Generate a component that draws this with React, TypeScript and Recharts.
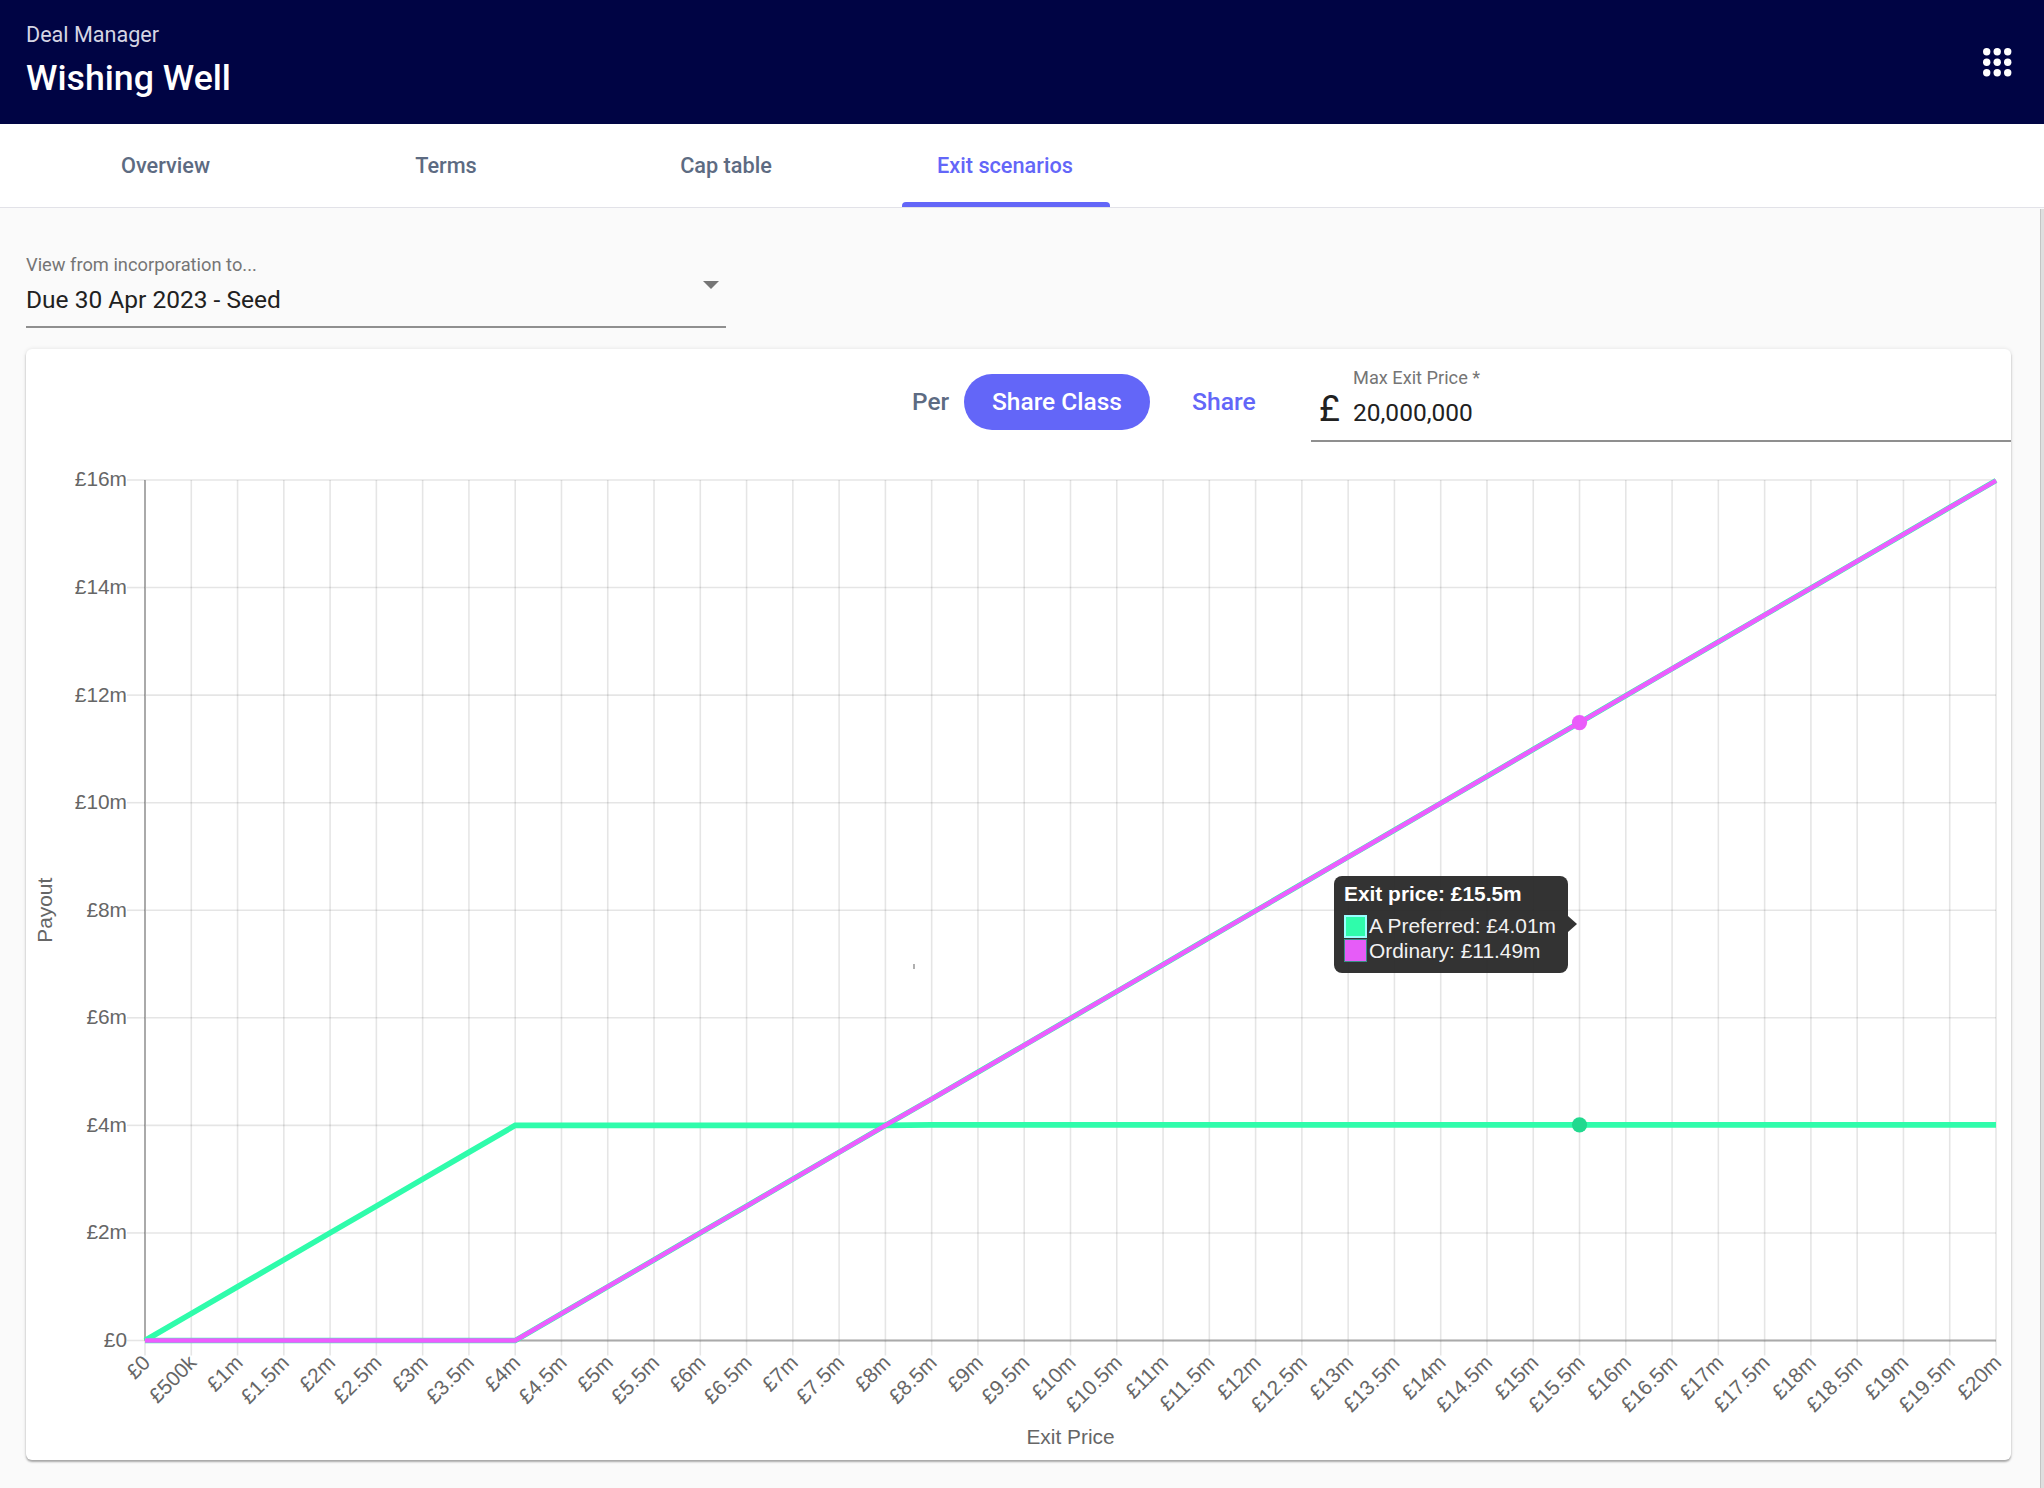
import React from "react";
import { LineChart, Line, XAxis, YAxis, CartesianGrid, Tooltip } from "recharts";

const exitLabels = ["£0","£500k","£1m","£1.5m","£2m","£2.5m","£3m","£3.5m","£4m","£4.5m","£5m","£5.5m","£6m","£6.5m","£7m","£7.5m","£8m","£8.5m","£9m","£9.5m","£10m","£10.5m","£11m","£11.5m","£12m","£12.5m","£13m","£13.5m","£14m","£14.5m","£15m","£15.5m","£16m","£16.5m","£17m","£17.5m","£18m","£18.5m","£19m","£19.5m","£20m"];
const aPreferred = [0,0.5,1,1.5,2,2.5,3,3.5,4,4,4,4,4,4,4,4,4,4.01,4.01,4.01,4.01,4.01,4.01,4.01,4.01,4.01,4.01,4.01,4.01,4.01,4.01,4.01,4.01,4.01,4.01,4.01,4.01,4.01,4.01,4.01,4.01];
const ordinary = [0,0,0,0,0,0,0,0,0,0.5,1,1.5,2,2.5,3,3.5,4,4.49,4.99,5.49,5.99,6.49,6.99,7.49,7.99,8.49,8.99,9.49,9.99,10.49,10.99,11.49,11.99,12.49,12.99,13.49,13.99,14.49,14.99,15.49,15.99];
const yTicks = [0,2,4,6,8,10,12,14,16];
const tabs = ["Overview","Terms","Cap table","Exit scenarios"];

const GREEN = "#2ffcab";
const PURPLE = "#ee5cff";
const INDIGO = "#6366f8";
const GRID = "rgba(0,0,0,0.1)";
const CHART_FONT = 20.86;

const data = exitLabels.map((label, i) => ({ label, a: aPreferred[i], o: ordinary[i], edge: ordinary[i] }));

const ui = "Roboto, sans-serif";
const arial = "'Liberation Sans', Arial, sans-serif";

function TipBox({ payload, label }: any) {
  if (!payload || !payload.length) return null;
  const rows = payload.filter((p: any) => p.dataKey !== "edge");
  return (
    <div style={{ position: "relative", width: 234, height: 97, boxSizing: "border-box", background: "rgba(40,40,40,0.95)", borderRadius: 8, color: "#fff", fontFamily: arial, fontSize: 20.9, padding: "5px 8px 0 10px" }}>
      <div style={{ fontWeight: 700, lineHeight: "26px", marginBottom: 7, whiteSpace: "nowrap" }}>Exit price: {label}</div>
      {rows.map((p: any) => (
        <div key={p.dataKey} style={{ display: "flex", alignItems: "center", height: 24.5, whiteSpace: "nowrap" }}>
          <span style={{ display: "inline-block", flex: "none", width: 23, height: 23, boxSizing: "border-box", background: p.dataKey === "a" ? GREEN : "#e65cf8", border: p.dataKey === "a" ? "2px solid #9ff" : "1px solid #3a8f86", marginRight: 2 }} />
          <span style={{ color: "#f2f2f2" }}>{p.name}: £{Number(p.value).toFixed(2)}m</span>
        </div>
      ))}
      <div style={{ position: "absolute", left: 234, top: 40, width: 0, height: 0, borderTop: "8px solid transparent", borderBottom: "8px solid transparent", borderLeft: "9px solid rgba(40,40,40,0.95)" }} />
    </div>
  );
}

function XTick({ x, y, payload }: any) {
  const px = x - 4;
  const py = y - 4;
  return (
    <text x={px} y={py} dy="0.71em" textAnchor="end" transform={`rotate(-45 ${px} ${py})`} fontFamily={arial} fontSize={CHART_FONT} fill="#666">{payload.value}</text>
  );
}

function YTick({ x, y, payload }: any) {
  return (
    <text x={x} y={y - 1} dy="0.355em" textAnchor="end" fontFamily={arial} fontSize={CHART_FONT} fill="#666">{payload.value === 0 ? "£0" : `£${payload.value}m`}</text>
  );
}

const Abs = ({ x, y, size, color, weight, children, font }: any) => (
  <div style={{ position: "absolute", left: x, top: y, fontSize: size, color, fontWeight: weight || 400, fontFamily: font || ui, lineHeight: 1, whiteSpace: "nowrap" }}>{children}</div>
);

export default function App() {
  const tabCentres = [165.5, 446, 726, 1005];
  return (
    <div style={{ position: "absolute", left: 0, top: 0, width: 2044, height: 1488, background: "#fafafa", overflow: "hidden" }}>
      <div style={{ position: "absolute", left: 0, top: 0, width: 2044, height: 124, background: "#000444" }} />
      <Abs x={26} y={24} size={21.6} color="#d5d5e3">Deal Manager</Abs>
      <Abs x={26} y={61} size={35.7} color="#fff" weight={500}>Wishing Well</Abs>
      <svg style={{ position: "absolute", left: 1983, top: 48 }} width={30} height={30}>
        {[0,1,2].flatMap(r => [0,1,2].map(c => <circle key={r + "-" + c} cx={3.7 + c * 10.5} cy={3.7 + r * 10.5} r={3.7} fill="#fff" />))}
      </svg>

      <div style={{ position: "absolute", left: 0, top: 124, width: 2044, height: 84, background: "#fff", borderBottom: "1px solid #e2e2e8", boxSizing: "border-box" }} />
      {tabs.map((t, i) => (
        <div key={t} style={{ position: "absolute", left: tabCentres[i] - 150, width: 300, top: 155, textAlign: "center", fontFamily: ui, fontSize: 21.7, fontWeight: 500, lineHeight: 1, color: i === 3 ? INDIGO : "#5d6b82" }}>{t}</div>
      ))}
      <div style={{ position: "absolute", left: 902, top: 202, width: 208, height: 5, background: INDIGO, borderRadius: "4px 4px 0 0" }} />
      <div style={{ position: "absolute", left: 2040, top: 209, width: 4, height: 1279, background: "#dedede", borderLeft: "1px solid #c4c4c4", boxSizing: "border-box" }} />

      <Abs x={26} y={256} size={18.3} color="#757575">View from incorporation to...</Abs>
      <Abs x={26} y={288} size={24.5} color="#212121">Due 30 Apr 2023 - Seed</Abs>
      <div style={{ position: "absolute", left: 703, top: 281, width: 0, height: 0, borderLeft: "8px solid transparent", borderRight: "8px solid transparent", borderTop: "8px solid #757575" }} />
      <div style={{ position: "absolute", left: 26, top: 326, width: 700, height: 2, background: "#8f8f8f" }} />

      <div style={{ position: "absolute", left: 26, top: 349, width: 1985, height: 1111, background: "#fff", borderRadius: 6, boxShadow: "0 2px 2px rgba(0,0,0,0.3), 0 0 4px rgba(0,0,0,0.1)" }} />

      <Abs x={912} y={390} size={24.4} color="#5d6b82" weight={500}>Per</Abs>
      <div style={{ position: "absolute", left: 964, top: 374, width: 186, height: 56, borderRadius: 28, background: INDIGO, color: "#fff", fontFamily: ui, fontSize: 24.5, fontWeight: 500, lineHeight: "56px", textAlign: "center" }}>Share Class</div>
      <Abs x={1192} y={390} size={24.7} color={INDIGO} weight={500}>Share</Abs>
      <Abs x={1353} y={369} size={18.2} color="#757575">Max Exit Price *</Abs>
      <Abs x={1319} y={391} size={36} color="#212121">£</Abs>
      <Abs x={1353} y={401} size={24.5} color="#212121">20,000,000</Abs>
      <div style={{ position: "absolute", left: 1311, top: 440, width: 700, height: 2, background: "#8f8f8f" }} />
      <div style={{ position: "absolute", left: 913, top: 964, width: 2, height: 5, background: "#b0b0b0" }} />

      <div style={{ position: "absolute", left: 0, top: 0 }}>
        <LineChart width={2044} height={1488} data={data} margin={{ left: 45, right: 48, top: 480, bottom: 47.5 }}>
          <CartesianGrid stroke={GRID} strokeWidth={1.6} />
          <XAxis dataKey="label" interval={0} height={100} tickSize={15} tickMargin={2} zIndex={100}
            tick={XTick}
            tickLine={{ stroke: GRID, strokeWidth: 1.6 }}
            axisLine={{ stroke: "#aaa", strokeWidth: 2 }}
            label={{ value: "Exit Price", position: "insideBottom", offset: -3, style: { fontFamily: arial, fontSize: CHART_FONT, fill: "#666" } }} />
          <YAxis domain={[0, 16]} ticks={yTicks} width={100} tickSize={18} tickMargin={0} zIndex={100}
            tick={YTick}
            tickLine={{ stroke: GRID, strokeWidth: 1.6 }}
            axisLine={{ stroke: "#aaa", strokeWidth: 2 }}
            label={{ value: "Payout", angle: -90, position: "insideLeft", offset: 0, style: { fontFamily: arial, fontSize: CHART_FONT, fill: "#666", textAnchor: "middle" } }} />
          <Tooltip defaultIndex={31} active cursor={false} isAnimationActive={false} content={TipBox}
            position={{ x: 1334, y: 876 }} wrapperStyle={{ outline: "none" }} />
          <Line dataKey="a" name="A Preferred" stroke={GREEN} strokeWidth={5.6} dot={false} isAnimationActive={false}
            activeDot={{ r: 7.6, fill: "#22d98f", stroke: "none" }} />
          <Line dataKey="edge" name="edge" stroke={GREEN} strokeWidth={5.4} dot={false} activeDot={false} isAnimationActive={false} tooltipType="none" />
          <Line dataKey="o" name="Ordinary" stroke={PURPLE} strokeWidth={4.4} dot={false} isAnimationActive={false}
            activeDot={{ r: 7.6, fill: "#ea5cfa", stroke: "none" }} />
        </LineChart>
      </div>
    </div>
  );
}
